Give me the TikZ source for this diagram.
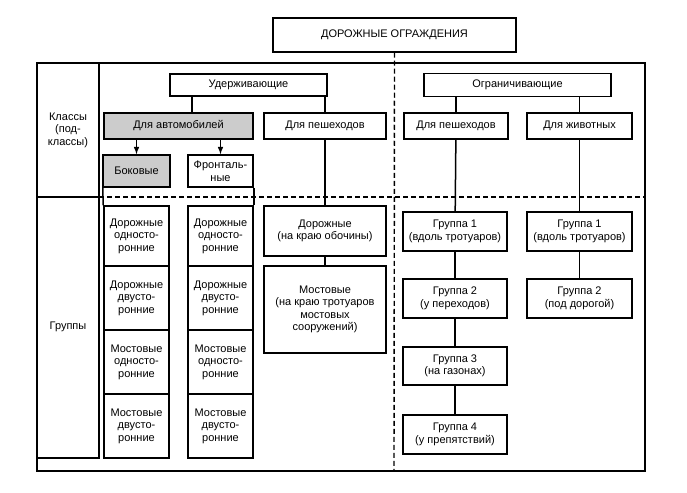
\documentclass[tikz,border=0pt]{standalone}
\usepackage{fontspec}
\setmainfont{Liberation Sans}
\usepackage{tikz}
\usetikzlibrary{arrows}

\begin{document}
\begin{tikzpicture}[x=1pt,y=-1pt,font=\fontsize{11}{12.5}\selectfont]

\tikzset{every node/.style={align=center,inner sep=1pt},
            box/.style={draw,line width=1.5pt,minimum height=#1},box/.default=26pt,
            graybox/.style={box=#1,fill=gray!40},graybox/.default=26pt,
            link/.style={line width=1.5pt},
            split/.style={line width=1.4pt,dash pattern=on 5pt off 3pt}}
\useasboundingbox (0,0) rectangle (687,492);

\node[box=34pt,minimum width=243pt] (roads) at (394.5,35) {ДОРОЖНЫЕ ОГРАЖДЕНИЯ};

\draw[link] (37,63) rectangle (645,471);
\draw[link] (99,63) -- (99,458) -- (37,458);
\draw[link] (37,197) -- (99,197);
\draw[split] (99,197) -- (645,197);
\draw[split] (roads.south) -- (394,471);

\node (classes) at (68,130) {Классы\\(под-\\классы)};
\node (groups) at (68,327) {Группы};

\node[box=22pt,minimum width=157pt] (hold) at (248.5,85) {Удерживающие};
\node[box=23pt,minimum width=187pt] (limit) at (517.5,85) {Ограничивающие};

\node[graybox,minimum width=149pt] (cars) at (178.5,126) {Для автомобилей};
\node[box,minimum width=122pt] (walkA) at (325,126) {Для пешеходов};
\node[box,minimum width=104pt] (walkB) at (456,126) {Для пешеходов};
\node[box,minimum width=105pt] (beasts) at (579.5,126) {Для животных};

\node[graybox=32pt,minimum width=67pt] (side) at (136.5,171) {Боковые};
\node[box=32pt,minimum width=65pt] (front) at (220.5,171) {Фронталь-\\ные};

\node[box=60pt,minimum width=65pt] (sA1) at (136.5,236) {Дорожные\\односто-\\ронние};
\node[box=64pt,minimum width=65pt] (sA2) at (136.5,298) {Дорожные\\двусто-\\ронние};
\node[box=64pt,minimum width=65pt] (sA3) at (136.5,362) {Мостовые\\односто-\\ронние};
\node[box=64pt,minimum width=65pt] (sA4) at (136.5,426) {Мостовые\\двусто-\\ронние};
\node[box=60pt,minimum width=65pt] (fA1) at (220.5,236) {Дорожные\\односто-\\ронние};
\node[box=64pt,minimum width=65pt] (fA2) at (220.5,298) {Дорожные\\двусто-\\ронние};
\node[box=64pt,minimum width=65pt] (fA3) at (220.5,362) {Мостовые\\односто-\\ронние};
\node[box=64pt,minimum width=65pt] (fA4) at (220.5,426) {Мостовые\\двусто-\\ронние};

\node[box=50pt,minimum width=122pt] (curb) at (325,231) {Дорожные\\(на краю обочины)};
\node[box=87pt,minimum width=122pt] (bridge) at (325,309.5) {Мостовые\\(на краю тротуаров\\мостовых\\сооружений)};

\node[box=39pt,minimum width=104pt] (wg1) at (455,231.5) {Группа 1\\(вдоль тротуаров)};
\node[box=39pt,minimum width=104pt] (wg2) at (455,298.5) {Группа 2\\(у переходов)};
\node[box=38pt,minimum width=104pt] (wg3) at (455,366) {Группа 3\\(на газонах)};
\node[box=39pt,minimum width=104pt] (wg4) at (455,434.5) {Группа 4\\(у препятствий)};
\node[box=39pt,minimum width=105pt] (bg1) at (579.5,231.5) {Группа 1\\(вдоль тротуаров)};
\node[box=39pt,minimum width=105pt] (bg2) at (579.5,298.5) {Группа 2\\(под дорогой)};

\draw[link] ([xshift=13.5pt]cars.north) -- ([xshift=13.5pt]cars.north |- hold.south);
\draw[link] (hold.south -| walkA.north) -- (walkA.north);
\draw[link] (limit.south -| walkB.north) -- (walkB.north);
\draw[link] (limit.south -| beasts.north) -- (beasts.north);
\draw[link,-latex] (cars.south -| side.north) -- (side.north);
\draw[link,-latex] (cars.south -| front.north) -- (front.north);
\draw[link] ([xshift=0.5pt]side.south west) -- (sA1.north west);
\draw[link] (front.south east) -- (fA1.north east);
\draw[link] (walkA) -- (curb);
\draw[link] (curb) -- (bridge);
\draw[link] (walkB) -- (wg1);
\draw[link] (wg1) -- (wg2);
\draw[link] (wg2) -- (wg3);
\draw[link] (wg3) -- (wg4);
\draw[link] (beasts) -- (bg1);
\draw[link] (bg1) -- (bg2);

\end{tikzpicture}
\end{document}
